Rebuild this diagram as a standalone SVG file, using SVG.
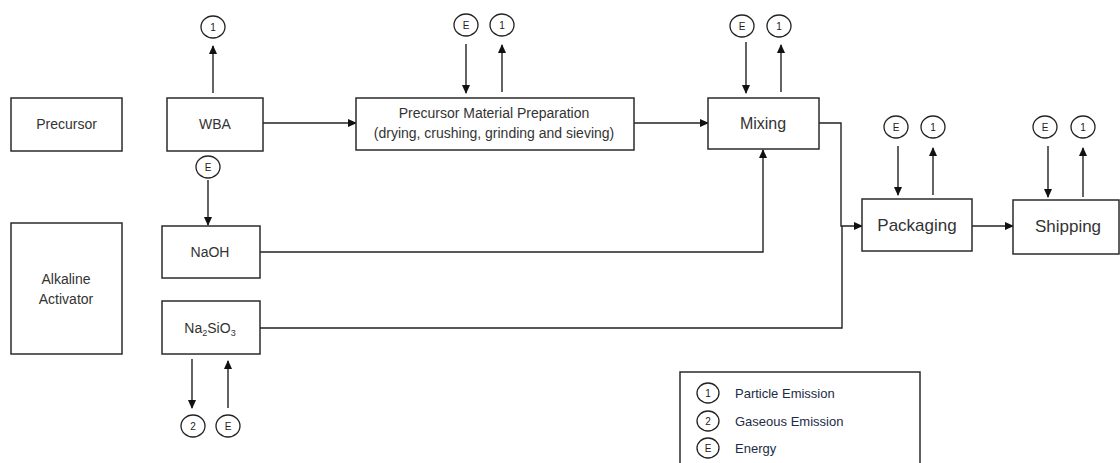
<svg xmlns="http://www.w3.org/2000/svg" width="1120" height="463" viewBox="0 0 1120 463">
<style>
.box{fill:#fff;stroke:#2b2b2b;stroke-width:1.5}
.lbl{font-family:"Liberation Sans",Arial,sans-serif;fill:#333;text-anchor:middle}
.ln{fill:none;stroke:#222;stroke-width:1.4}
.c{fill:#fff;stroke:#222;stroke-width:1.3}
.ct{font-family:"Liberation Sans",Arial,sans-serif;font-size:10px;fill:#222;text-anchor:middle}
.lg{font-family:"Liberation Sans",Arial,sans-serif;font-size:13px;fill:#1d2b45}
</style>
<defs>
<marker id="ah" markerWidth="9" markerHeight="9" refX="8" refY="4.5" orient="auto" markerUnits="userSpaceOnUse">
<path d="M0,0.5 L9,4.5 L0,8.5 Z" fill="#111"/>
</marker>
</defs>
<rect width="1120" height="463" fill="#fff"/>

<g id="connectors">
<line class="ln" x1="213" y1="93" x2="213" y2="46" marker-end="url(#ah)"/>
<line class="ln" x1="208" y1="180" x2="208" y2="225" marker-end="url(#ah)"/>
<line class="ln" x1="263" y1="123" x2="356" y2="123" marker-end="url(#ah)"/>
<line class="ln" x1="466" y1="44" x2="466" y2="93" marker-end="url(#ah)"/>
<line class="ln" x1="502" y1="92" x2="502" y2="45" marker-end="url(#ah)"/>
<line class="ln" x1="634" y1="123" x2="708" y2="123" marker-end="url(#ah)"/>
<line class="ln" x1="746" y1="42" x2="746" y2="93" marker-end="url(#ah)"/>
<line class="ln" x1="781" y1="92" x2="781" y2="45" marker-end="url(#ah)"/>
<path class="ln" d="M819,123 H841 V226 H862" marker-end="url(#ah)"/>
<path class="ln" d="M260,328 H842 V226"/>
<path class="ln" d="M260,252 H763 V150" marker-end="url(#ah)"/>
<line class="ln" x1="898" y1="146" x2="898" y2="195" marker-end="url(#ah)"/>
<line class="ln" x1="933" y1="195" x2="933" y2="148" marker-end="url(#ah)"/>
<line class="ln" x1="972" y1="226" x2="1013" y2="226" marker-end="url(#ah)"/>
<line class="ln" x1="1048" y1="146" x2="1048" y2="197" marker-end="url(#ah)"/>
<line class="ln" x1="1083" y1="197" x2="1083" y2="148" marker-end="url(#ah)"/>
<line class="ln" x1="192" y1="359" x2="192" y2="408" marker-end="url(#ah)"/>
<line class="ln" x1="228" y1="408" x2="228" y2="361" marker-end="url(#ah)"/>
</g>

<g id="precursor"><rect class="box" x="11" y="98" width="111" height="53"/><text class="lbl" x="66.5" y="129" font-size="14">Precursor</text></g>
<g id="wba"><rect class="box" x="167" y="98" width="96" height="53"/><text class="lbl" x="215" y="129" font-size="14">WBA</text></g>
<g id="pmp"><rect class="box" x="356" y="98" width="278" height="52"/>
<text class="lbl" x="494" y="118" font-size="14">Precursor Material Preparation</text>
<text class="lbl" x="494" y="138" font-size="14">(drying, crushing, grinding and sieving)</text></g>
<g id="mixing"><rect class="box" x="708" y="98" width="111" height="51"/><text class="lbl" x="763" y="129" font-size="16">Mixing</text></g>
<g id="packaging"><rect class="box" x="862" y="199" width="110" height="52"/><text class="lbl" x="917" y="231" font-size="17">Packaging</text></g>
<g id="shipping"><rect class="box" x="1013" y="200" width="106" height="54"/><text class="lbl" x="1068" y="232" font-size="17">Shipping</text></g>
<g id="alkaline"><rect class="box" x="11" y="223" width="111" height="131"/>
<text class="lbl" x="66" y="284" font-size="14">Alkaline</text>
<text class="lbl" x="66" y="304" font-size="14">Activator</text></g>
<g id="naoh"><rect class="box" x="162" y="226" width="98" height="52"/><text class="lbl" x="210" y="257" font-size="14">NaOH</text></g>
<g id="na2sio3"><rect class="box" x="162" y="301" width="98" height="53"/><text class="lbl" x="210" y="333" font-size="14">Na<tspan font-size="9" dy="3">2</tspan><tspan dy="-3">SiO</tspan><tspan font-size="9" dy="3">3</tspan></text></g>

<g id="wba-p1"><ellipse class="c" cx="213" cy="27" rx="12" ry="11"/><text class="ct" x="213" y="30.5">1</text></g>
<g id="wba-e"><ellipse class="c" cx="208" cy="167" rx="12" ry="11"/><text class="ct" x="208" y="170.5">E</text></g>
<g id="pmp-e"><ellipse class="c" cx="466" cy="25" rx="12" ry="11"/><text class="ct" x="466" y="28.5">E</text></g>
<g id="pmp-p1"><ellipse class="c" cx="502" cy="25" rx="12" ry="11"/><text class="ct" x="502" y="28.5">1</text></g>
<g id="mix-e"><ellipse class="c" cx="742" cy="26" rx="12" ry="11"/><text class="ct" x="742" y="29.5">E</text></g>
<g id="mix-p1"><ellipse class="c" cx="779" cy="26" rx="12" ry="11"/><text class="ct" x="779" y="29.5">1</text></g>
<g id="pack-e"><ellipse class="c" cx="896" cy="127" rx="12" ry="11"/><text class="ct" x="896" y="130.5">E</text></g>
<g id="pack-p1"><ellipse class="c" cx="933" cy="127" rx="12" ry="11"/><text class="ct" x="933" y="130.5">1</text></g>
<g id="ship-e"><ellipse class="c" cx="1045" cy="127" rx="12" ry="11"/><text class="ct" x="1045" y="130.5">E</text></g>
<g id="ship-p1"><ellipse class="c" cx="1083" cy="127" rx="12" ry="11"/><text class="ct" x="1083" y="130.5">1</text></g>
<g id="na-g2"><ellipse class="c" cx="193" cy="426" rx="12" ry="11"/><text class="ct" x="193" y="429.5">2</text></g>
<g id="na-e"><ellipse class="c" cx="228" cy="426" rx="12" ry="11"/><text class="ct" x="228" y="429.5">E</text></g>

<g id="legend">
<path d="M680,463 V372 H920 V463" fill="none" stroke="#2b2b2b" stroke-width="1.5"/>
<ellipse class="c" cx="708" cy="393" rx="11" ry="10"/><text class="ct" x="708" y="396.5">1</text>
<text class="lg" x="735" y="398">Particle Emission</text>
<ellipse class="c" cx="708" cy="421" rx="11" ry="10"/><text class="ct" x="708" y="424.5">2</text>
<text class="lg" x="735" y="426">Gaseous Emission</text>
<ellipse class="c" cx="708" cy="448" rx="11" ry="10"/><text class="ct" x="708" y="451.5">E</text>
<text class="lg" x="735" y="453">Energy</text>
</g>
</svg>
